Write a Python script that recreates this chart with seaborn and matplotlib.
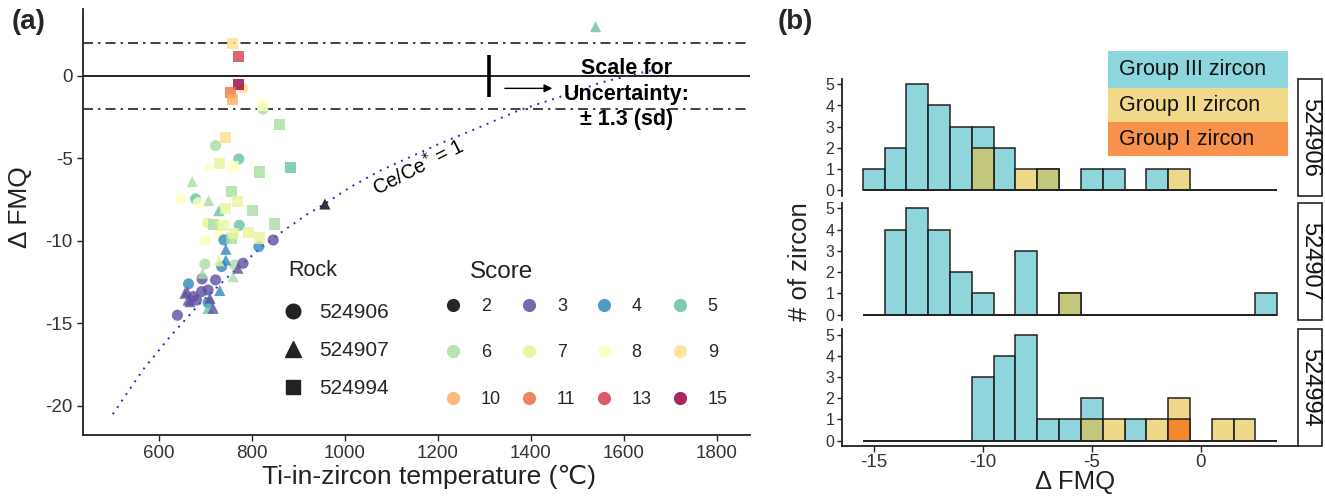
import matplotlib
matplotlib.use("Agg")
import matplotlib.pyplot as plt
from matplotlib.lines import Line2D
from matplotlib.patches import Rectangle
import seaborn as sns
import pandas as pd
import numpy as np

# ---- panel (a): Ti-in-zircon T vs dFMQ, one set of lists per rock
r906_temp = [781, 824, 722, 772, 647, 679, 685, 705, 773, 700, 728, 740, 846, 815,
             699, 763, 735, 781, 722, 693, 664, 692, 706, 706, 640, 681, 674]
r906_fmq = [-0.75, -2.0, -4.22, -5.03, -7.45, -7.45, -7.68, -8.89, -9.05, -9.98, -9.54, -9.94, -9.94, -10.34,
            -11.4, -11.45, -11.55, -11.35, -12.36, -12.3, -12.6, -13.07, -12.97, -13.74, -14.5, -13.58, -13.37]
r906_score = [9, 6, 6, 5, 8, 5, 8, 7, 5, 8, 8, 4, 3, 4,
              6, 6, 4, 3, 3, 3, 4, 3, 3, 4, 3, 3, 3]

r907_temp = [1539, 706, 672, 707, 729, 957, 744, 744, 729, 694, 760, 770, 731, 661, 663, 710, 706, 717, 656, 667]
r907_fmq = [2.99, -5.43, -6.4, -7.55, -8.16, -7.76, -10.5, -11.15, -11.2, -11.96, -12.16, -11.65,
            -13.0, -13.07, -13.58, -13.47, -14.08, -14.08, -13.17, -13.68]
r907_score = [5, 8, 6, 6, 5, 2, 4, 4, 7, 6, 6, 3, 4, 3, 3, 3, 5, 3, 3, 3]

r994_temp = [758, 772, 772, 755, 758, 822, 860, 743, 731, 761, 817, 883, 757, 744, 770, 801, 849, 718,
             738, 792, 816, 756, 761]
r994_fmq = [1.98, 1.17, -0.5, -1.01, -1.45, -1.76, -2.93, -3.72, -5.33, -5.49, -5.82, -5.54, -7.0, -8.04,
            -7.62, -8.16, -8.97, -8.99, -9.05, -9.47, -9.82, -9.86, -9.54]
r994_score = [9, 13, 15, 11, 10, 8, 6, 9, 7, 8, 6, 5, 6, 7, 7, 6, 6, 6, 7, 7, 7, 6, 7]

# Ce/Ce* = 1 reference curve
ce_temp = [501, 566, 624, 688, 759, 824, 867, 918, 957, 1011, 1075, 1204, 1290, 1376, 1462, 1548, 1634, 1662]
ce_fmq = [-20.5, -17.8, -15.8, -13.8, -11.9, -10.3, -9.4, -8.4, -7.75, -6.75, -5.75, -4.1, -3.1, -2.06,
          -1.27, -0.42, 0.18, 0.36]

rocks = ["524906", "524907", "524994"]
rock_markers = {"524906": "o", "524907": "^", "524994": "s"}
scores = [2, 3, 4, 5, 6, 7, 8, 9, 10, 11, 13, 15]
score_colors = {2: "#000000", 3: "#5E4FA2", 4: "#3288BD", 5: "#66C2A5", 6: "#ABDDA4", 7: "#E6F598",
                8: "#FFFFBF", 9: "#FEE08B", 10: "#FDAE61", 11: "#F46D43", 13: "#D53E4F", 15: "#9E0142"}

# ---- panel (b): histogram counts per 1-unit bin (centres -15..3)
bin_centers = list(range(-15, 4))
h906_III = [1, 2, 5, 4, 3, 3, 2, 0, 1, 0, 1, 1, 0, 1, 0, 0, 0, 0, 0]
h906_II = [0, 0, 0, 0, 0, 2, 0, 1, 1, 0, 0, 0, 0, 0, 1, 0, 0, 0, 0]
h906_I = [0] * 19
h907_III = [0, 4, 5, 4, 2, 1, 0, 3, 0, 1, 0, 0, 0, 0, 0, 0, 0, 0, 1]
h907_II = [0, 0, 0, 0, 0, 0, 0, 0, 0, 1, 0, 0, 0, 0, 0, 0, 0, 0, 0]
h907_I = [0] * 19
h994_III = [0, 0, 0, 0, 0, 3, 4, 5, 1, 1, 2, 0, 1, 0, 0, 0, 0, 0, 0]
h994_II = [0, 0, 0, 0, 0, 0, 0, 0, 0, 0, 1, 1, 0, 1, 2, 0, 1, 1, 0]
h994_I = [0, 0, 0, 0, 0, 0, 0, 0, 0, 0, 0, 0, 0, 0, 1, 0, 0, 0, 0]
groups = ["Group III zircon", "Group II zircon", "Group I zircon"]
group_fill = {"Group III zircon": ("#44BBC6", 0.6), "Group II zircon": ("#E6BE3C", 0.6),
              "Group I zircon": ("#F57415", 0.8)}
group_key = {"Group III zircon": "#8DD6DE", "Group II zircon": "#F2D98A", "Group I zircon": "#F8914A"}

sns.set_theme(style="ticks")
plt.rcParams["font.family"] = ["Liberation Sans", "DejaVu Sans"]
plt.rcParams["axes.unicode_minus"] = False
plt.rcParams["axes.edgecolor"] = "#222222"
plt.rcParams["xtick.color"] = "#222222"
plt.rcParams["ytick.color"] = "#222222"
plt.rcParams["xtick.labelcolor"] = "#333333"
plt.rcParams["ytick.labelcolor"] = "#333333"

W, H = 1325, 499
fig = plt.figure(figsize=(W / 100, H / 100), dpi=100)


def box(x0, y0, x1, y1):
    # pixel box (top-left origin) -> figure fraction rect
    return [x0 / W, 1 - y1 / H, (x1 - x0) / W, (y1 - y0) / H]


def fx(x):
    return x / W


def fy(y):
    return 1 - y / H


# ================= panel (a) =================
ax = fig.add_axes(box(83, 9, 750, 435))
df_a = pd.concat([
    pd.DataFrame({"temp": r906_temp, "fmq": r906_fmq, "score": r906_score, "rock": "524906"}),
    pd.DataFrame({"temp": r907_temp, "fmq": r907_fmq, "score": r907_score, "rock": "524907"}),
    pd.DataFrame({"temp": r994_temp, "fmq": r994_fmq, "score": r994_score, "rock": "524994"}),
], ignore_index=True)

ax.axhline(0, color="#222222", lw=1.4, zorder=1)
ax.axhline(2, color="#222222", lw=1.2, ls=(0, (6, 3, 1.5, 3)), zorder=1)
ax.axhline(-2, color="#222222", lw=1.2, ls=(0, (6, 3, 1.5, 3)), zorder=1)
sns.lineplot(x=ce_temp, y=ce_fmq, ax=ax, color="#2B2BC0", lw=1.4, ls=(0, (1, 3)), sort=False)

sns.scatterplot(data=df_a, x="temp", y="fmq", hue="score", style="rock", palette=score_colors,
                hue_order=scores, style_order=rocks, markers=rock_markers, s=64, alpha=0.8,
                linewidth=0, legend=False, ax=ax, zorder=3)

# uncertainty scale
sd = 1.3
scale_t = 1310
ax.plot([scale_t, scale_t], [-sd, sd], color="black", lw=2.6, solid_capstyle="butt")
ax.annotate("", xy=(1452, -0.75), xytext=(1338, -0.75),
            arrowprops=dict(arrowstyle="-|>", color="black", lw=1.0, mutation_scale=12))
ax.text(1606, -1.1, "Scale for\nUncertainty:\n\u00b1 1.3 (sd)", ha="center", va="center",
        fontsize=15.5, fontweight="bold", linespacing=1.3, color="black")
ax.text(1159, -5.55, "Ce/Ce$^{*}$ = 1", rotation=27, ha="center", va="center", fontsize=14.5,
        color="black")

ax.set_xlim(437, 1871)
ax.set_ylim(-21.76, 4.06)
ax.set_xticks([600, 800, 1000, 1200, 1400, 1600, 1800])
ax.set_yticks([-20, -15, -10, -5, 0])
ax.tick_params(labelsize=13.5, length=4, width=1)
ax.set_xlabel("")
ax.set_ylabel("")
sns.despine(ax=ax)
for sp in ["left", "bottom"]:
    ax.spines[sp].set_linewidth(1.3)
fig.text(fx(429), fy(477), "Ti-in-zircon temperature (\u2103)", fontsize=19, color="#222222",
         ha="center", va="center")
fig.text(fx(20), fy(207), "\u0394 FMQ", fontsize=19, color="#222222", rotation=90,
         ha="center", va="center")

# Rock legend
rock_handles = [Line2D([], [], marker=rock_markers[r], ls="", color="#222222",
                       markersize={"o": 10.5, "^": 12, "s": 9.5}[rock_markers[r]]) for r in rocks]
leg1 = ax.legend(rock_handles, rocks, loc="upper left", bbox_to_anchor=(fx(282.5), fy(303)),
                 bbox_transform=fig.transFigure, frameon=False, borderpad=0, borderaxespad=0,
                 handlelength=1.0, handletextpad=0.75, labelspacing=0.91, fontsize=15)
ax.add_artist(leg1)

# Score legend (row-major look with column-major fill)
order = [scores[r * 4 + c] for c in range(4) for r in range(3)]
score_handles = [Line2D([], [], marker="o", ls="", color=score_colors[s], alpha=0.85,
                        markeredgewidth=0, markersize=9.5) for s in order]
ax.legend(score_handles, [str(s) for s in order], ncol=4, loc="upper left",
          bbox_to_anchor=(fx(444), fy(298)), bbox_transform=fig.transFigure, frameon=False,
          borderpad=0, borderaxespad=0, handlelength=1.0, handletextpad=1.05, labelspacing=1.63,
          columnspacing=1.05, fontsize=13)
fig.text(fx(288), fy(276.5), "Rock", fontsize=15.5, va="baseline", ha="left", color="#222222")
fig.text(fx(470), fy(278.3), "Score", fontsize=17.5, va="baseline", ha="left", color="#222222")

# ================= panel (b) =================
facets = [
    ("524906", box(842, 79, 1298, 195.6), [h906_III, h906_II, h906_I]),
    ("524907", box(842, 203, 1298, 320), [h907_III, h907_II, h907_I]),
    ("524994", box(842, 329.3, 1298, 446), [h994_III, h994_II, h994_I]),
]
hist_axes = []
for i, (rock, rect, counts) in enumerate(facets):
    hax = fig.add_axes(rect)
    hist_axes.append(hax)
    for g, c in zip(groups, counts):
        n0 = len(hax.patches)
        dfh = pd.DataFrame({"fmq": bin_centers, "n": c})
        sns.histplot(data=dfh, x="fmq", weights="n", binwidth=1, binrange=(-15.5, 3.5),
                     ax=hax, stat="count")
        base, a = group_fill[g]
        for p in hax.patches[n0:]:
            p.set_alpha(None)
            p.set_facecolor(matplotlib.colors.to_rgba(base, a))
            p.set_edgecolor("#222222")
            p.set_linewidth(1.1)
    hax.set_xlim(-16.45, 4.45)
    hax.set_ylim(-0.25, 5.25)
    hax.set_yticks(range(6))
    hax.set_ylabel("")
    hax.set_xlabel("")
    hax.tick_params(axis="y", labelsize=11.5, length=3.5, width=1, pad=2)
    hax.spines["top"].set_visible(False)
    hax.spines["right"].set_visible(False)
    hax.spines["left"].set_linewidth(1.3)
    if i < 2:
        hax.spines["bottom"].set_visible(False)
        hax.set_xticks([])
    else:
        hax.spines["bottom"].set_linewidth(1.3)
        hax.set_xticks([-15, -10, -5, 0])
        hax.tick_params(axis="x", labelsize=13.5, length=4, width=1, pad=2)
    # facet strip on the right
    sw = 24 / 456
    hax.add_patch(Rectangle((1.0, 0.0), sw, 1.0, transform=hax.transAxes, clip_on=False,
                            facecolor="white", edgecolor="#222222", lw=1.2))
    hax.text(1.0 + sw / 2, 0.5, rock, transform=hax.transAxes, rotation=-90, ha="center",
             va="center", fontsize=17, color="#111111")

fig.text(fx(1075), fy(482), "\u0394 FMQ", fontsize=18.5, color="#222222", ha="center", va="center")
fig.text(fx(800), fy(262), "# of zircon", rotation=90, fontsize=18.5, ha="center", va="center",
         color="#222222")

# group key (coloured bands with labels)
key_y = [51, 88, 122, 156]
for j, g in enumerate(groups):
    fig.add_artist(Rectangle((fx(1108), fy(key_y[j + 1])), (1288 - 1108) / W,
                             (key_y[j + 1] - key_y[j]) / H, transform=fig.transFigure,
                             facecolor=group_key[g], edgecolor="none", zorder=5))
    fig.text(fx(1119), fy((key_y[j] + key_y[j + 1]) / 2), g, fontsize=15.5, ha="left",
             va="center", color="#111111", zorder=6)

fig.text(fx(12), fy(22), "(a)", fontsize=20, fontweight="bold", ha="left", va="center")
fig.text(fx(778), fy(22), "(b)", fontsize=20, fontweight="bold", ha="left", va="center")

fig.savefig("out.png", dpi=100)
